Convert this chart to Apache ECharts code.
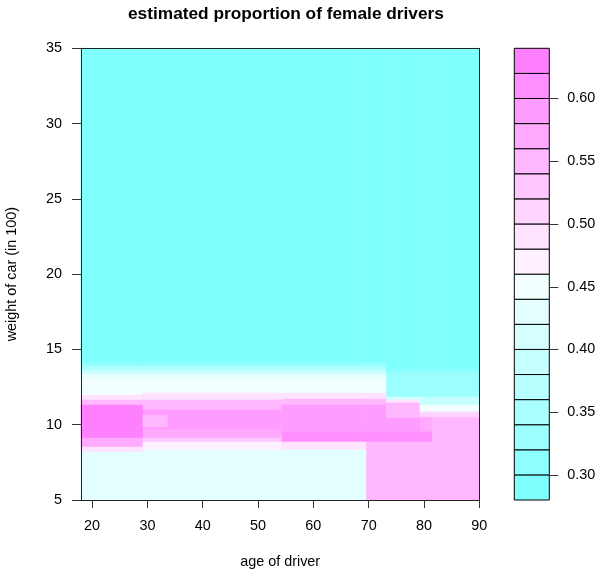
<!DOCTYPE html>
<html>
<head>
<meta charset="utf-8">
<script src="https://cdn.jsdelivr.net/npm/echarts@6/dist/echarts.min.js"></script>
<style>
html,body{margin:0;padding:0;background:#fff;}
#chart{width:598px;height:571px;}
</style>
</head>
<body>
<div id="chart"></div>
<script>
// ---- data ----
const ageTicks = [20, 30, 40, 50, 60, 70, 80, 90];
const keyTicks = [0.30, 0.35, 0.40, 0.45, 0.50, 0.55, 0.60];
const breaks = [0.28,0.30,0.32,0.34,0.36,0.38,0.40,0.42,0.44,0.46,0.48,0.50,0.52,0.54,0.56,0.58,0.60,0.62,0.64];
const palette = ['#80FFFF','#8EFFFF','#9CFFFF','#AAFFFF','#B8FFFF','#C6FFFF','#D5FFFF','#E3FFFF','#F1FFFF',
                 '#FFF1FF','#FFE3FF','#FFD5FF','#FFC6FF','#FFB8FF','#FFAAFF','#FF9CFF','#FF8EFF','#FF80FF'];

// age bands (columns of the prediction surface)
const ageEdges = [18, 29.2, 54.3, 69.6, 73.2, 79.3, 81.5, 90];
// each column: [weight low, weight high, estimated proportion]
const colA = [[14.16,35,0.29],[13.90,14.16,0.31],[13.63,13.90,0.35],[13.37,13.63,0.39],[13.10,13.37,0.43],
              [11.97,13.10,0.45],[11.64,11.97,0.49],[11.31,11.64,0.55],[9.12,11.31,0.63],[8.52,9.12,0.57],
              [8.19,8.52,0.49],[5,8.19,0.43]];
const colB = [[14.16,35,0.29],[13.90,14.16,0.31],[13.63,13.90,0.35],[13.37,13.63,0.39],[13.10,13.37,0.43],
              [12.10,13.10,0.45],[11.64,12.10,0.49],[10.98,11.64,0.55],[9.65,10.98,0.59],[9.12,9.65,0.57],
              [8.85,9.12,0.53],[8.32,8.85,0.47],[5,8.32,0.43]];
const colC = [[14.16,35,0.29],[13.90,14.16,0.31],[13.63,13.90,0.35],[13.37,13.63,0.39],[13.10,13.37,0.43],
              [12.10,13.10,0.45],[11.70,12.10,0.49],[11.31,11.70,0.55],[9.52,11.31,0.59],[8.85,9.52,0.61],
              [8.32,8.85,0.49],[5,8.32,0.43]];
const colD = [[14.16,35,0.29],[13.90,14.16,0.31],[13.63,13.90,0.35],[13.37,13.63,0.39],[13.10,13.37,0.43],
              [12.10,13.10,0.45],[11.70,12.10,0.49],[11.31,11.70,0.55],[9.52,11.31,0.59],[8.85,9.52,0.61],
              [5,8.85,0.55]];
const colE = [[13.70,35,0.29],[13.43,13.70,0.31],[11.84,13.43,0.33],[11.64,11.84,0.41],[11.44,11.64,0.49],
              [10.44,11.44,0.55],[9.52,10.44,0.59],[8.85,9.52,0.61],[5,8.85,0.55]];
const colF = [[13.70,35,0.29],[13.43,13.70,0.31],[11.84,13.43,0.33],[11.31,11.84,0.39],[10.85,11.31,0.45],
              [10.50,10.85,0.51],[9.52,10.50,0.57],[8.85,9.52,0.61],[5,8.85,0.55]];
const colG = [[13.70,35,0.29],[13.43,13.70,0.31],[11.84,13.43,0.33],[11.31,11.84,0.39],[10.85,11.31,0.45],
              [10.50,10.85,0.51],[5,10.50,0.55]];
// small patch inside the second column: [age low, age high, weight low, weight high, value]
const notch = [[29.2,33.6,9.85,10.64,0.55]];

// ---- build series data ----
const columns = [colA, colB, colC, colD, colE, colF, colG];
const cells = [];
columns.forEach((col, i) => {
  col.forEach(r => cells.push([ageEdges[i], ageEdges[i+1], r[0], r[1], r[2]]));
});
notch.forEach(n => cells.push(n.slice()));

const keyCells = [];
for (let i = 0; i < palette.length; i++) {
  keyCells.push([0, 1, breaks[i], breaks[i+1], (breaks[i] + breaks[i+1]) / 2]);
}
const keyTickData = keyTicks.map(v => [1, v]);
const pieces = palette.map((c, i) => ({gte: breaks[i], lt: breaks[i+1], color: c}));

const FONT = 'Liberation Sans, Arial, Helvetica, sans-serif';
const FS = 14.4;

function rectItem(stroke) {
  return function (params, api) {
    const p0 = api.coord([api.value(0), api.value(3)]);
    const p1 = api.coord([api.value(1), api.value(2)]);
    const col = api.visual('color');
    return {
      type: 'rect',
      shape: {x: p0[0], y: p0[1], width: p1[0] - p0[0], height: p1[1] - p0[1]},
      style: {fill: col, stroke: stroke || col, lineWidth: stroke ? 1 : 0.6}
    };
  };
}

const chart = echarts.init(document.getElementById('chart'), null, {renderer: 'canvas'});
chart.setOption({
  backgroundColor: '#fff',
  animation: false,
  title: {
    text: 'estimated proportion of female drivers',
    left: 123, top: 1,
    textStyle: {fontFamily: FONT, fontSize: 17.3, fontWeight: 'bold', color: '#000'}
  },
  visualMap: {
    type: 'piecewise', show: false, dimension: 4, seriesIndex: [0, 1], pieces: pieces
  },
  grid: [
    {left: 81, top: 48.3, width: 398.3, height: 451.7, containLabel: false, outerBoundsMode: 'none'},
    {left: 514.3, top: 48.3, width: 35, height: 451.7, containLabel: false, outerBoundsMode: 'none'}
  ],
  xAxis: [
    {
      gridIndex: 0, type: 'value', min: 18, max: 90, position: 'bottom', z: 10,
      axisLine: {show: true, onZero: false, lineStyle: {color: '#222', width: 1}},
      axisTick: {show: true, length: 8, customValues: ageTicks, lineStyle: {color: '#333'}},
      axisLabel: {customValues: ageTicks, margin: 19.5, fontFamily: FONT, fontSize: FS, color: '#000'},
      splitLine: {show: false},
      name: 'age of driver', nameLocation: 'middle', nameGap: 55,
      nameTextStyle: {fontFamily: FONT, fontSize: FS, color: '#000'}
    },
    {
      gridIndex: 0, type: 'value', min: 18, max: 90, position: 'top', z: 10,
      axisLine: {show: true, onZero: false, lineStyle: {color: '#222', width: 1}},
      axisTick: {show: false}, axisLabel: {show: false}, splitLine: {show: false}
    },
    {
      gridIndex: 1, type: 'value', min: 0, max: 1, show: false
    }
  ],
  yAxis: [
    {
      gridIndex: 0, type: 'value', min: 5, max: 35, interval: 5, position: 'left', z: 10,
      axisLine: {show: true, onZero: false, lineStyle: {color: '#222', width: 1}},
      axisTick: {show: true, length: 9, lineStyle: {color: '#333'}},
      axisLabel: {margin: 19, fontFamily: FONT, fontSize: FS, color: '#000'},
      splitLine: {show: false},
      name: 'weight of car (in 100)', nameLocation: 'middle', nameGap: 62, nameRotate: 90,
      nameTextStyle: {fontFamily: FONT, fontSize: FS, color: '#000'}
    },
    {
      gridIndex: 0, type: 'value', min: 5, max: 35, position: 'right', z: 10,
      axisLine: {show: true, onZero: false, lineStyle: {color: '#222', width: 1}},
      axisTick: {show: false}, axisLabel: {show: false}, splitLine: {show: false}
    },
    {
      gridIndex: 1, type: 'value', min: 0.28, max: 0.64, position: 'right', z: 10,
      axisLine: {show: false},
      axisTick: {show: false},
      axisLabel: {customValues: keyTicks, margin: 18, fontFamily: FONT, fontSize: FS, color: '#000',
                  formatter: v => v.toFixed(2)},
      splitLine: {show: false}
    }
  ],
  series: [
    {
      type: 'custom', xAxisIndex: 0, yAxisIndex: 0,
      renderItem: rectItem(null),
      encode: {x: [0, 1], y: [2, 3]},
      data: cells
    },
    {
      type: 'custom', xAxisIndex: 2, yAxisIndex: 2,
      renderItem: rectItem('#000'),
      encode: {x: [0, 1], y: [2, 3]},
      data: keyCells
    },
    {
      type: 'custom', xAxisIndex: 2, yAxisIndex: 2, z: 5,
      renderItem: function (params, api) {
        const p = api.coord([api.value(0), api.value(1)]);
        return {
          type: 'line',
          shape: {x1: p[0], y1: Math.round(p[1]) + 0.5, x2: p[0] + 9, y2: Math.round(p[1]) + 0.5},
          style: {stroke: '#333', lineWidth: 1}
        };
      },
      encode: {x: 0, y: 1},
      data: keyTickData
    }
  ]
});
</script>
</body>
</html>
